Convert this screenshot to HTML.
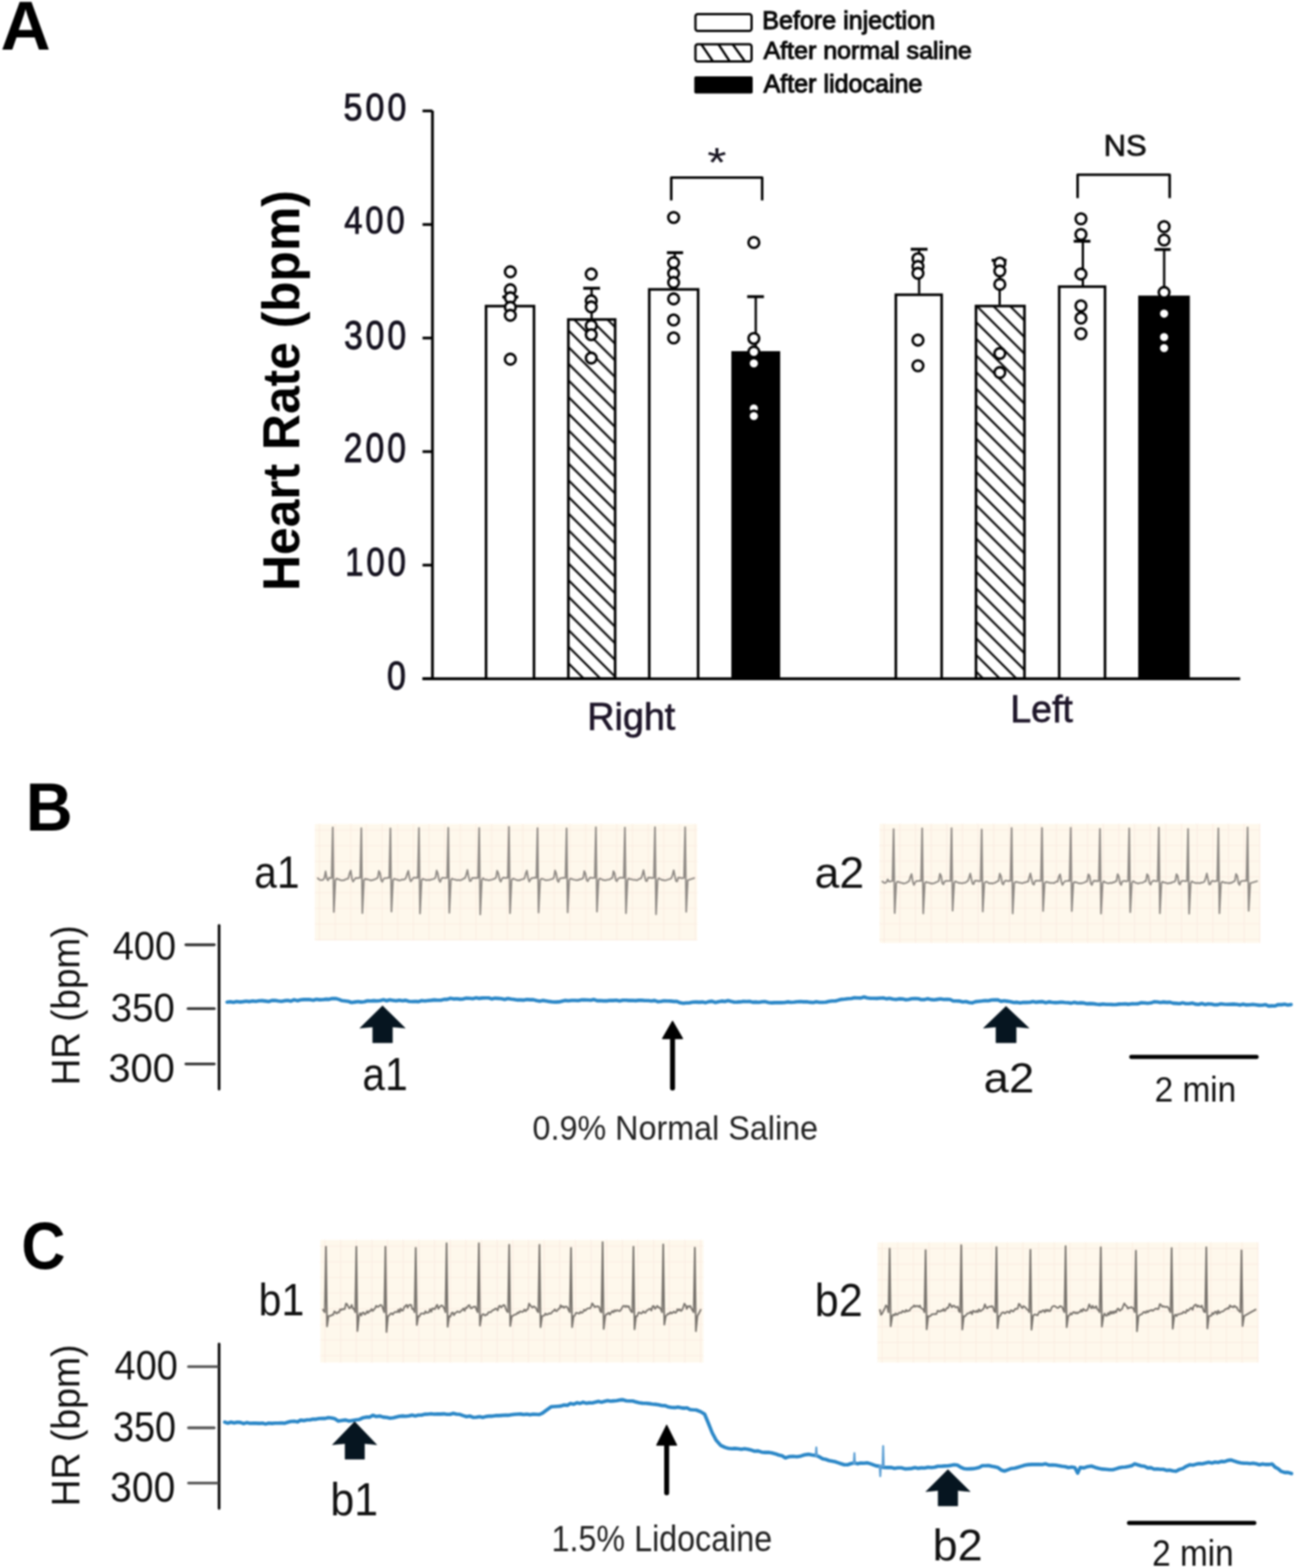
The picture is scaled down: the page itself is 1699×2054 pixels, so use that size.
<!DOCTYPE html>
<html><head><meta charset="utf-8"><title>Figure</title>
<style>
html,body{margin:0;padding:0;background:#fff;}
body{width:1699px;height:2054px;overflow:hidden;}
svg{display:block;font-family:"Liberation Sans", Arial, sans-serif;}
#fig{filter:blur(1px);}
</style></head>
<body>
<div id="fig">
<svg width="1699" height="2054" viewBox="0 0 1699 2054">
<defs>
<pattern id="hatch" patternUnits="userSpaceOnUse" width="21.8" height="21.8">
<path d="M-3,12.2 L9.6,24.8 M3.6,-3 L24.8,18.2" stroke="#000" stroke-width="2.7"/>
</pattern>
<clipPath id="legclip"><rect x="911" y="58" width="73.5" height="22.5" rx="3"/></clipPath>
</defs>
<text transform="translate(0.77,64.70) scale(0.9091,0.9029)" font-size="100" font-weight="bold" fill="#000">A</text>
<rect x="911" y="18.5" width="73.5" height="22" rx="3" fill="#fff" stroke="#000" stroke-width="3"/>
<g clip-path="url(#legclip)"><path d="M918,57 L935,82 M940.5,57 L957,82 M959,57 L977,82 M905,72 L916,86" stroke="#000" stroke-width="3"/></g>
<rect x="911" y="58" width="73.5" height="22.5" rx="3" fill="none" stroke="#000" stroke-width="3"/>
<rect x="909.5" y="100" width="76.5" height="22.5" rx="2" fill="#000"/>
<text transform="translate(998.47,38.04) scale(0.3287,0.3362)" font-size="100" font-weight="normal" fill="#0a0a0a" stroke="#0a0a0a" stroke-width="4.2">Before injection</text>
<text transform="translate(1000.20,77.19) scale(0.3274,0.3108)" font-size="100" font-weight="normal" fill="#0a0a0a" stroke="#0a0a0a" stroke-width="4.2">After normal saline</text>
<text transform="translate(1000.20,120.78) scale(0.3285,0.3230)" font-size="100" font-weight="normal" fill="#0a0a0a" stroke="#0a0a0a" stroke-width="4.2">After lidocaine</text>
<line x1="566.5" y1="145" x2="566.5" y2="890.6" stroke="#000" stroke-width="3.6"/>
<line x1="553.5" y1="889.1" x2="1624.5" y2="889.1" stroke="#000" stroke-width="3.6"/>
<line x1="553.5" y1="889.1" x2="566.5" y2="889.1" stroke="#000" stroke-width="3.6"/>
<line x1="553.5" y1="740.3" x2="566.5" y2="740.3" stroke="#000" stroke-width="3.6"/>
<line x1="553.5" y1="591.6" x2="566.5" y2="591.6" stroke="#000" stroke-width="3.6"/>
<line x1="553.5" y1="442.8" x2="566.5" y2="442.8" stroke="#000" stroke-width="3.6"/>
<line x1="553.5" y1="294.1" x2="566.5" y2="294.1" stroke="#000" stroke-width="3.6"/>
<line x1="553.5" y1="145.3" x2="566.5" y2="145.3" stroke="#000" stroke-width="3.6"/>
<text transform="translate(450.02,157.79) scale(0.4452,0.5056)" font-size="100" font-weight="normal" fill="#15121f" letter-spacing="9" stroke="#15121f" stroke-width="2.4">500</text>
<text transform="translate(450.94,306.30) scale(0.4285,0.4958)" font-size="100" font-weight="normal" fill="#15121f" letter-spacing="9" stroke="#15121f" stroke-width="2.4">400</text>
<text transform="translate(450.74,456.98) scale(0.4390,0.5211)" font-size="100" font-weight="normal" fill="#15121f" letter-spacing="9" stroke="#15121f" stroke-width="2.4">300</text>
<text transform="translate(450.29,605.47) scale(0.4415,0.5324)" font-size="100" font-weight="normal" fill="#15121f" letter-spacing="9" stroke="#15121f" stroke-width="2.4">200</text>
<text transform="translate(452.16,753.68) scale(0.4301,0.5183)" font-size="100" font-weight="normal" fill="#15121f" letter-spacing="9" stroke="#15121f" stroke-width="2.4">100</text>
<text transform="translate(506.93,902.88) scale(0.4438,0.5183)" font-size="100" font-weight="normal" fill="#15121f" stroke="#15121f" stroke-width="2.4">0</text>
<text transform="translate(391.75,774.06) rotate(-90) scale(0.6515,0.6787)" font-size="100" font-weight="bold" fill="#000">Heart Rate (bpm)</text>
<line x1="668.5" y1="399.5" x2="668.5" y2="389" stroke="#000" stroke-width="3"/>
<line x1="658" y1="389" x2="679" y2="389" stroke="#000" stroke-width="3.8"/>
<line x1="775.0" y1="417.0" x2="775.0" y2="377.6" stroke="#000" stroke-width="3"/>
<line x1="764" y1="377.6" x2="786" y2="377.6" stroke="#000" stroke-width="3.8"/>
<line x1="884.0" y1="377.6" x2="884.0" y2="331.0" stroke="#000" stroke-width="3"/>
<line x1="873.6" y1="331.0" x2="894.8" y2="331.0" stroke="#000" stroke-width="3.8"/>
<line x1="990.0" y1="460.0" x2="990.0" y2="388.6" stroke="#000" stroke-width="3"/>
<line x1="978.8" y1="388.6" x2="1000.7" y2="388.6" stroke="#000" stroke-width="3.8"/>
<line x1="1204.0" y1="384.6" x2="1204.0" y2="326.5" stroke="#000" stroke-width="3"/>
<line x1="1193" y1="326.5" x2="1215" y2="326.5" stroke="#000" stroke-width="3.8"/>
<line x1="1309.5" y1="399.4" x2="1309.5" y2="341.0" stroke="#000" stroke-width="3"/>
<line x1="1299" y1="341.0" x2="1318.5" y2="341.0" stroke="#000" stroke-width="3.8"/>
<line x1="1418.5" y1="374.0" x2="1418.5" y2="316.0" stroke="#000" stroke-width="3"/>
<line x1="1406.5" y1="316.0" x2="1428.4" y2="316.0" stroke="#000" stroke-width="3.8"/>
<line x1="1525.0" y1="387.2" x2="1525.0" y2="326.8" stroke="#000" stroke-width="3"/>
<line x1="1512.4" y1="326.8" x2="1533.5" y2="326.8" stroke="#000" stroke-width="3.8"/>
<rect x="636.7" y="401.0" width="62.8" height="488.1" fill="#fff" stroke="#000" stroke-width="3.4"/>
<rect x="744.5" y="418.5" width="61.3" height="470.6" fill="url(#hatch)" stroke="#000" stroke-width="3.4"/>
<rect x="850.5" y="379.1" width="64.0" height="510.0" fill="#fff" stroke="#000" stroke-width="3.4"/>
<rect x="958.0" y="460.0" width="64.0" height="429.1" fill="#000"/>
<rect x="1173.5" y="386.1" width="60.0" height="503.0" fill="#fff" stroke="#000" stroke-width="3.4"/>
<rect x="1278.5" y="400.9" width="63.5" height="488.2" fill="url(#hatch)" stroke="#000" stroke-width="3.4"/>
<rect x="1387.5" y="375.5" width="60.0" height="513.6" fill="#fff" stroke="#000" stroke-width="3.4"/>
<rect x="1491.0" y="387.2" width="67.6" height="501.9" fill="#000"/>
<circle cx="668.5" cy="356" r="7" fill="#fff" stroke="#000" stroke-width="3.3"/>
<circle cx="668.5" cy="379.5" r="7" fill="#fff" stroke="#000" stroke-width="3.3"/>
<circle cx="668.5" cy="390" r="7" fill="#fff" stroke="#000" stroke-width="3.3"/>
<circle cx="668.5" cy="402.5" r="7" fill="#fff" stroke="#000" stroke-width="3.3"/>
<circle cx="668.5" cy="413" r="7" fill="#fff" stroke="#000" stroke-width="3.3"/>
<circle cx="668.5" cy="470.5" r="7" fill="#fff" stroke="#000" stroke-width="3.3"/>
<circle cx="774.5" cy="359" r="7" fill="#fff" stroke="#000" stroke-width="3.3"/>
<circle cx="774.5" cy="394" r="7" fill="#fff" stroke="#000" stroke-width="3.3"/>
<circle cx="774.5" cy="402" r="7" fill="#fff" stroke="#000" stroke-width="3.3"/>
<circle cx="774.5" cy="426.5" r="7" fill="#fff" stroke="#000" stroke-width="3.3"/>
<circle cx="774.5" cy="438.3" r="7" fill="#fff" stroke="#000" stroke-width="3.3"/>
<circle cx="774.5" cy="469" r="7" fill="#fff" stroke="#000" stroke-width="3.3"/>
<circle cx="882.4" cy="284.8" r="7" fill="#fff" stroke="#000" stroke-width="3.3"/>
<circle cx="882.4" cy="344" r="7" fill="#fff" stroke="#000" stroke-width="3.3"/>
<circle cx="882.4" cy="358" r="7" fill="#fff" stroke="#000" stroke-width="3.3"/>
<circle cx="882.4" cy="370" r="7" fill="#fff" stroke="#000" stroke-width="3.3"/>
<circle cx="882.4" cy="391.5" r="7" fill="#fff" stroke="#000" stroke-width="3.3"/>
<circle cx="882.4" cy="419.2" r="7" fill="#fff" stroke="#000" stroke-width="3.3"/>
<circle cx="882.4" cy="442.7" r="7" fill="#fff" stroke="#000" stroke-width="3.3"/>
<circle cx="987.5" cy="317.7" r="7" fill="#fff" stroke="#000" stroke-width="3.3"/>
<circle cx="987.5" cy="443.3" r="7" fill="#fff" stroke="#000" stroke-width="3.3"/>
<circle cx="987.5" cy="461" r="7" fill="#fff" stroke="#000" stroke-width="3.3"/>
<circle cx="987.5" cy="476" r="7" fill="#fff" stroke="#000" stroke-width="3.3"/>
<circle cx="987.5" cy="535" r="7" fill="#fff" stroke="#000" stroke-width="3.3"/>
<circle cx="987.5" cy="545" r="7" fill="#fff" stroke="#000" stroke-width="3.3"/>
<circle cx="1202.5" cy="338.9" r="7" fill="#fff" stroke="#000" stroke-width="3.3"/>
<circle cx="1202.5" cy="349" r="7" fill="#fff" stroke="#000" stroke-width="3.3"/>
<circle cx="1202.5" cy="358" r="7" fill="#fff" stroke="#000" stroke-width="3.3"/>
<circle cx="1202.5" cy="445.5" r="7" fill="#fff" stroke="#000" stroke-width="3.3"/>
<circle cx="1202.5" cy="479.1" r="7" fill="#fff" stroke="#000" stroke-width="3.3"/>
<circle cx="1309.7" cy="344.7" r="7" fill="#fff" stroke="#000" stroke-width="3.3"/>
<circle cx="1309.7" cy="355" r="7" fill="#fff" stroke="#000" stroke-width="3.3"/>
<circle cx="1309.7" cy="372.5" r="7" fill="#fff" stroke="#000" stroke-width="3.3"/>
<circle cx="1309.7" cy="463" r="7" fill="#fff" stroke="#000" stroke-width="3.3"/>
<circle cx="1309.7" cy="488" r="7" fill="#fff" stroke="#000" stroke-width="3.3"/>
<circle cx="1416.0" cy="286.6" r="7" fill="#fff" stroke="#000" stroke-width="3.3"/>
<circle cx="1416.0" cy="307.1" r="7" fill="#fff" stroke="#000" stroke-width="3.3"/>
<circle cx="1416.0" cy="359" r="7" fill="#fff" stroke="#000" stroke-width="3.3"/>
<circle cx="1416.0" cy="400.6" r="7" fill="#fff" stroke="#000" stroke-width="3.3"/>
<circle cx="1416.0" cy="416.7" r="7" fill="#fff" stroke="#000" stroke-width="3.3"/>
<circle cx="1416.0" cy="437.1" r="7" fill="#fff" stroke="#000" stroke-width="3.3"/>
<circle cx="1524.9" cy="296.9" r="7" fill="#fff" stroke="#000" stroke-width="3.3"/>
<circle cx="1524.9" cy="314.4" r="7" fill="#fff" stroke="#000" stroke-width="3.3"/>
<circle cx="1524.9" cy="383" r="7" fill="#fff" stroke="#000" stroke-width="3.3"/>
<circle cx="1524.9" cy="410.8" r="7" fill="#fff" stroke="#000" stroke-width="3.3"/>
<circle cx="1524.9" cy="441.5" r="7" fill="#fff" stroke="#000" stroke-width="3.3"/>
<circle cx="1524.9" cy="456" r="7" fill="#fff" stroke="#000" stroke-width="3.3"/>
<path d="M879.3,262.5 V232.6 H998.4 V262.5" fill="none" stroke="#000" stroke-width="3.3" stroke-linejoin="round"/>
<path d="M1411.6,259.6 V228.9 H1532.2 V259.6" fill="none" stroke="#000" stroke-width="3.3" stroke-linejoin="round"/>
<text transform="translate(926.51,231.06) scale(0.6457,0.5371)" font-size="100" font-weight="normal" fill="#15121f">*</text>
<text transform="translate(1445.66,204.42) scale(0.4056,0.3845)" font-size="100" font-weight="normal" fill="#111" stroke="#111" stroke-width="2.5">NS</text>
<text transform="translate(769.25,956.31) scale(0.4942,0.4947)" font-size="100" font-weight="normal" fill="#1e1629" stroke="#1e1629" stroke-width="1.8">Right</text>
<text transform="translate(1323.58,946.20) scale(0.4905,0.5027)" font-size="100" font-weight="normal" fill="#1e1629" stroke="#1e1629" stroke-width="1.8">Left</text>
<text transform="translate(33.84,1088.00) scale(0.8508,0.8957)" font-size="100" font-weight="bold" fill="#000">B</text>
<rect x="412.5" y="1079.4" width="500.7" height="152.6" fill="#fef8ec"/>
<path d="M418.5,1079.4 V1232.0 M439.0,1079.4 V1232.0 M459.5,1079.4 V1232.0 M480.0,1079.4 V1232.0 M500.5,1079.4 V1232.0 M521.0,1079.4 V1232.0 M541.5,1079.4 V1232.0 M562.0,1079.4 V1232.0 M582.5,1079.4 V1232.0 M603.0,1079.4 V1232.0 M623.5,1079.4 V1232.0 M644.0,1079.4 V1232.0 M664.5,1079.4 V1232.0 M685.0,1079.4 V1232.0 M705.5,1079.4 V1232.0 M726.0,1079.4 V1232.0 M746.5,1079.4 V1232.0 M767.0,1079.4 V1232.0 M787.5,1079.4 V1232.0 M808.0,1079.4 V1232.0 M828.5,1079.4 V1232.0 M849.0,1079.4 V1232.0 M869.5,1079.4 V1232.0 M890.0,1079.4 V1232.0 M910.5,1079.4 V1232.0 M412.5,1087.4 H913.2 M412.5,1107.9 H913.2 M412.5,1128.4 H913.2 M412.5,1148.9 H913.2 M412.5,1169.4 H913.2 M412.5,1189.9 H913.2 M412.5,1210.4 H913.2 M412.5,1230.9 H913.2" stroke="#fbede3" stroke-width="1.3" fill="none"/>
<path d="M415.5,1150.0 L417.1,1151.1 L418.6,1152.5 L420.2,1152.8 L421.8,1152.9 L423.4,1152.2 L424.9,1150.4 L426.5,1141.4 L428.1,1151.2 L429.7,1153.3 L431.2,1149.7 L432.8,1150.5 L434.4,1150.0 L435.9,1083.9 L437.3,1194.7 L439.3,1153.0 L440.8,1150.8 L442.4,1151.7 L443.9,1151.8 L445.5,1152.8 L447.0,1153.3 L448.6,1153.0 L450.1,1153.1 L451.7,1152.6 L453.2,1151.5 L454.8,1151.5 L456.3,1150.5 L457.9,1144.1 L459.4,1140.3 L461.0,1151.2 L462.5,1154.9 L464.1,1152.5 L465.6,1150.4 L467.2,1150.2 L468.7,1150.4 L470.3,1149.9 L471.8,1150.0 L473.3,1084.9 L474.7,1196.2 L476.7,1153.0 L478.2,1151.2 L479.7,1151.9 L481.2,1151.7 L482.7,1152.2 L484.2,1152.6 L485.8,1153.5 L487.3,1152.8 L488.8,1152.8 L490.3,1152.0 L491.8,1151.6 L493.3,1150.7 L494.8,1149.9 L496.3,1140.9 L497.8,1143.8 L499.3,1153.1 L500.8,1155.1 L502.4,1151.4 L503.9,1150.4 L505.4,1150.5 L506.9,1150.2 L508.4,1149.7 L509.9,1150.0 L511.4,1085.1 L512.8,1194.1 L514.8,1153.0 L516.3,1151.2 L517.9,1151.6 L519.4,1152.4 L521.0,1152.4 L522.5,1153.3 L524.1,1153.1 L525.6,1152.6 L527.2,1152.0 L528.7,1152.3 L530.3,1151.7 L531.8,1150.0 L533.4,1144.6 L534.9,1140.7 L536.5,1150.5 L538.0,1154.7 L539.6,1152.5 L541.1,1150.4 L542.7,1149.5 L544.2,1150.1 L545.8,1149.5 L547.3,1150.0 L548.8,1084.7 L550.2,1196.7 L552.2,1153.0 L553.7,1151.2 L555.2,1152.0 L556.8,1152.1 L558.3,1153.1 L559.8,1152.7 L561.3,1152.6 L562.9,1153.0 L564.4,1152.2 L565.9,1151.9 L567.4,1151.5 L569.0,1151.0 L570.5,1149.7 L572.0,1140.3 L573.5,1144.1 L575.0,1152.5 L576.6,1155.4 L578.1,1151.3 L579.6,1149.9 L581.1,1150.0 L582.7,1150.0 L584.2,1150.1 L585.7,1150.0 L587.2,1084.3 L588.6,1195.8 L590.6,1153.0 L592.1,1150.9 L593.7,1151.9 L595.2,1152.0 L596.8,1152.4 L598.3,1153.1 L599.9,1152.7 L601.4,1152.8 L603.0,1153.2 L604.5,1152.4 L606.1,1151.9 L607.6,1150.7 L609.2,1150.4 L610.7,1145.9 L612.3,1139.6 L613.8,1147.9 L615.4,1154.2 L616.9,1153.9 L618.5,1150.1 L620.0,1150.0 L621.6,1150.2 L623.1,1149.9 L624.7,1150.2 L626.2,1150.0 L627.7,1084.7 L629.1,1197.9 L631.1,1153.0 L632.6,1150.3 L634.2,1151.7 L635.8,1152.6 L637.3,1152.3 L638.9,1152.8 L640.4,1153.1 L642.0,1152.7 L643.5,1152.5 L645.1,1152.0 L646.6,1151.4 L648.2,1150.9 L649.7,1149.9 L651.2,1140.7 L652.8,1144.0 L654.4,1152.2 L655.9,1155.0 L657.5,1151.2 L659.0,1149.8 L660.6,1149.7 L662.1,1150.3 L663.7,1149.7 L665.2,1150.0 L666.7,1083.1 L668.1,1196.3 L670.1,1153.0 L671.6,1151.0 L673.2,1151.2 L674.7,1152.0 L676.3,1152.5 L677.8,1153.3 L679.4,1152.9 L680.9,1153.2 L682.5,1152.1 L684.0,1151.8 L685.6,1151.4 L687.1,1150.8 L688.7,1144.2 L690.2,1140.5 L691.8,1150.5 L693.3,1155.0 L694.9,1152.0 L696.4,1150.3 L698.0,1150.3 L699.5,1149.7 L701.1,1149.8 L702.6,1150.0 L704.1,1084.9 L705.5,1195.4 L707.5,1153.0 L709.0,1151.1 L710.5,1151.3 L712.0,1151.7 L713.5,1152.4 L715.0,1153.2 L716.6,1152.8 L718.1,1152.8 L719.6,1152.5 L721.1,1152.1 L722.6,1151.5 L724.1,1151.3 L725.6,1149.7 L727.1,1140.3 L728.6,1144.2 L730.1,1153.1 L731.6,1155.4 L733.2,1150.9 L734.7,1150.5 L736.2,1150.4 L737.7,1149.7 L739.2,1150.2 L740.7,1150.0 L742.2,1085.0 L743.6,1195.3 L745.6,1153.0 L747.1,1150.8 L748.6,1151.3 L750.2,1151.9 L751.7,1152.3 L753.2,1152.5 L754.7,1153.1 L756.3,1152.7 L757.8,1152.9 L759.3,1151.7 L760.8,1152.0 L762.4,1151.0 L763.9,1150.5 L765.4,1141.2 L766.9,1144.2 L768.4,1152.8 L770.0,1154.4 L771.5,1151.2 L773.0,1149.7 L774.5,1149.8 L776.1,1150.2 L777.6,1150.0 L779.1,1150.0 L780.6,1083.7 L782.0,1194.2 L784.0,1153.0 L785.5,1150.9 L787.0,1151.3 L788.5,1151.9 L790.0,1152.9 L791.5,1152.9 L793.0,1153.3 L794.5,1152.8 L796.0,1152.3 L797.5,1152.2 L799.0,1151.9 L800.5,1150.5 L802.1,1150.4 L803.6,1141.2 L805.1,1144.1 L806.6,1153.0 L808.1,1154.4 L809.6,1151.1 L811.1,1150.4 L812.6,1149.5 L814.1,1149.8 L815.6,1149.8 L817.1,1150.0 L818.6,1084.1 L820.0,1196.3 L822.0,1153.0 L823.5,1150.7 L825.0,1151.7 L826.5,1151.5 L828.0,1152.1 L829.5,1152.5 L831.0,1152.6 L832.5,1152.5 L834.0,1153.2 L835.5,1152.7 L837.0,1151.4 L838.5,1151.2 L840.0,1150.3 L841.5,1145.6 L843.0,1139.9 L844.5,1147.9 L846.0,1154.1 L847.5,1154.2 L849.0,1149.7 L850.5,1149.8 L852.0,1149.6 L853.5,1150.1 L855.0,1150.2 L856.5,1150.0 L858.0,1083.6 L859.4,1197.7 L861.4,1153.0 L862.9,1150.4 L864.4,1151.3 L865.9,1152.1 L867.4,1152.8 L868.9,1152.7 L870.4,1153.3 L871.9,1153.1 L873.4,1152.7 L874.9,1152.2 L876.4,1151.8 L877.9,1151.4 L879.5,1150.4 L881.0,1146.0 L882.5,1140.0 L884.0,1147.5 L885.5,1154.1 L887.0,1154.6 L888.5,1149.6 L890.0,1149.9 L891.5,1149.9 L893.0,1150.4 L894.5,1150.4 L896.0,1150.0 L897.5,1083.6 L898.9,1194.4 L900.9,1153.0 L910.2,1150.0" stroke="#8e8984" stroke-width="2.2" fill="none" stroke-linejoin="round"/>
<rect x="1152.2" y="1079.2" width="498.4" height="156" fill="#fef8ec"/>
<path d="M1158.2,1079.2 V1235.2 M1178.7,1079.2 V1235.2 M1199.2,1079.2 V1235.2 M1219.7,1079.2 V1235.2 M1240.2,1079.2 V1235.2 M1260.7,1079.2 V1235.2 M1281.2,1079.2 V1235.2 M1301.7,1079.2 V1235.2 M1322.2,1079.2 V1235.2 M1342.7,1079.2 V1235.2 M1363.2,1079.2 V1235.2 M1383.7,1079.2 V1235.2 M1404.2,1079.2 V1235.2 M1424.7,1079.2 V1235.2 M1445.2,1079.2 V1235.2 M1465.7,1079.2 V1235.2 M1486.2,1079.2 V1235.2 M1506.7,1079.2 V1235.2 M1527.2,1079.2 V1235.2 M1547.7,1079.2 V1235.2 M1568.2,1079.2 V1235.2 M1588.7,1079.2 V1235.2 M1609.2,1079.2 V1235.2 M1629.7,1079.2 V1235.2 M1650.2,1079.2 V1235.2 M1152.2,1087.2 H1650.6 M1152.2,1107.7 H1650.6 M1152.2,1128.2 H1650.6 M1152.2,1148.7 H1650.6 M1152.2,1169.2 H1650.6 M1152.2,1189.7 H1650.6 M1152.2,1210.2 H1650.6 M1152.2,1230.7 H1650.6" stroke="#fbede3" stroke-width="1.3" fill="none"/>
<path d="M1155.2,1154.0 L1156.7,1155.5 L1158.3,1156.5 L1159.8,1156.7 L1161.4,1155.4 L1162.9,1152.0 L1164.5,1154.8 L1166.0,1154.7 L1167.6,1154.3 L1169.1,1154.0 L1170.6,1086.1 L1172.0,1196.1 L1174.0,1157.0 L1175.5,1154.8 L1177.1,1155.3 L1178.6,1155.9 L1180.2,1156.3 L1181.7,1156.6 L1183.3,1157.4 L1184.8,1157.2 L1186.4,1156.8 L1187.9,1156.2 L1189.5,1154.9 L1191.0,1154.3 L1192.6,1148.4 L1194.1,1145.0 L1195.7,1155.2 L1197.2,1159.3 L1198.8,1155.9 L1200.3,1154.1 L1201.9,1154.2 L1203.4,1154.0 L1205.0,1153.7 L1206.5,1154.0 L1208.0,1085.2 L1209.4,1196.6 L1211.4,1157.0 L1212.9,1155.2 L1214.5,1155.9 L1216.0,1156.2 L1217.5,1156.4 L1219.0,1157.3 L1220.6,1157.1 L1222.1,1157.3 L1223.6,1157.0 L1225.1,1156.2 L1226.7,1155.5 L1228.2,1154.9 L1229.7,1154.0 L1231.3,1144.5 L1232.8,1147.6 L1234.3,1157.0 L1235.8,1158.5 L1237.4,1154.5 L1238.9,1154.1 L1240.4,1153.8 L1241.9,1154.0 L1243.5,1154.0 L1245.0,1154.0 L1246.5,1084.8 L1247.9,1193.0 L1249.9,1157.0 L1251.4,1154.4 L1252.9,1155.3 L1254.4,1155.7 L1255.9,1156.6 L1257.4,1156.6 L1258.9,1156.8 L1260.4,1157.2 L1261.9,1156.6 L1263.4,1156.4 L1264.9,1156.2 L1266.4,1154.8 L1268.0,1154.0 L1269.5,1149.5 L1271.0,1144.3 L1272.5,1151.9 L1274.0,1157.8 L1275.5,1158.2 L1277.0,1153.7 L1278.5,1154.0 L1280.0,1153.5 L1281.5,1154.2 L1283.0,1154.4 L1284.5,1154.0 L1286.0,1086.7 L1287.4,1194.1 L1289.4,1157.0 L1291.0,1155.2 L1292.5,1155.0 L1294.1,1155.9 L1295.6,1157.1 L1297.2,1157.2 L1298.8,1156.9 L1300.3,1157.4 L1301.9,1156.7 L1303.4,1156.5 L1305.0,1155.3 L1306.6,1154.5 L1308.1,1154.0 L1309.7,1144.4 L1311.2,1147.6 L1312.8,1157.2 L1314.3,1158.7 L1315.9,1154.5 L1317.5,1153.5 L1319.0,1153.7 L1320.6,1154.3 L1322.1,1153.9 L1323.7,1154.0 L1325.2,1084.7 L1326.6,1196.6 L1328.6,1157.0 L1330.1,1155.2 L1331.6,1155.4 L1333.2,1155.7 L1334.7,1156.1 L1336.2,1156.4 L1337.7,1156.7 L1339.2,1157.1 L1340.7,1156.4 L1342.3,1155.9 L1343.8,1155.8 L1345.3,1154.9 L1346.8,1155.0 L1348.3,1149.4 L1349.8,1144.1 L1351.4,1152.1 L1352.9,1157.9 L1354.4,1158.9 L1355.9,1154.0 L1357.4,1153.7 L1358.9,1153.9 L1360.5,1153.5 L1362.0,1153.9 L1363.5,1154.0 L1365.0,1084.5 L1366.4,1193.4 L1368.4,1157.0 L1370.0,1155.1 L1371.5,1155.6 L1373.1,1155.7 L1374.6,1156.4 L1376.2,1156.7 L1377.7,1156.7 L1379.3,1156.6 L1380.9,1156.8 L1382.4,1155.6 L1384.0,1154.8 L1385.5,1154.9 L1387.1,1148.3 L1388.6,1145.3 L1390.2,1154.8 L1391.8,1159.3 L1393.3,1156.4 L1394.9,1154.3 L1396.4,1154.2 L1398.0,1154.0 L1399.5,1153.6 L1401.1,1154.0 L1402.6,1084.4 L1404.0,1193.5 L1406.0,1157.0 L1407.5,1155.2 L1409.0,1155.9 L1410.6,1155.9 L1412.1,1156.7 L1413.6,1157.2 L1415.1,1157.1 L1416.6,1157.2 L1418.1,1156.7 L1419.7,1156.3 L1421.2,1155.7 L1422.7,1154.6 L1424.2,1154.5 L1425.7,1145.3 L1427.3,1147.3 L1428.8,1157.2 L1430.3,1159.4 L1431.8,1155.1 L1433.3,1153.5 L1434.8,1154.4 L1436.4,1153.6 L1437.9,1154.5 L1439.4,1154.0 L1440.9,1085.8 L1442.3,1196.8 L1444.3,1157.0 L1445.8,1154.4 L1447.3,1155.6 L1448.9,1156.2 L1450.4,1156.8 L1451.9,1157.3 L1453.4,1156.7 L1454.9,1156.4 L1456.4,1157.0 L1458.0,1155.7 L1459.5,1155.9 L1461.0,1154.5 L1462.5,1154.4 L1464.0,1145.1 L1465.6,1148.1 L1467.1,1156.8 L1468.6,1159.3 L1470.1,1154.6 L1471.6,1154.2 L1473.1,1153.8 L1474.7,1154.4 L1476.2,1154.3 L1477.7,1154.0 L1479.2,1085.2 L1480.6,1194.9 L1482.6,1157.0 L1484.1,1154.3 L1485.7,1155.0 L1487.2,1156.2 L1488.8,1156.6 L1490.3,1157.3 L1491.8,1157.1 L1493.4,1156.5 L1494.9,1156.5 L1496.5,1156.4 L1498.0,1155.6 L1499.6,1154.4 L1501.1,1154.4 L1502.6,1145.1 L1504.2,1147.3 L1505.7,1156.7 L1507.3,1158.8 L1508.8,1155.2 L1510.3,1153.8 L1511.9,1153.7 L1513.4,1154.0 L1515.0,1154.5 L1516.5,1154.0 L1518.0,1084.1 L1519.4,1196.5 L1521.4,1157.0 L1522.9,1154.9 L1524.4,1155.9 L1526.0,1156.1 L1527.5,1156.5 L1529.0,1157.2 L1530.5,1157.3 L1532.0,1156.5 L1533.5,1157.0 L1535.1,1155.9 L1536.6,1155.4 L1538.1,1155.2 L1539.6,1154.0 L1541.1,1145.1 L1542.7,1147.4 L1544.2,1157.1 L1545.7,1158.6 L1547.2,1154.6 L1548.7,1154.0 L1550.2,1153.8 L1551.8,1154.0 L1553.3,1154.4 L1554.8,1154.0 L1556.3,1085.9 L1557.7,1197.0 L1559.7,1157.0 L1561.2,1154.5 L1562.7,1155.5 L1564.2,1156.0 L1565.8,1156.7 L1567.3,1156.8 L1568.8,1156.6 L1570.3,1156.7 L1571.8,1157.1 L1573.3,1156.2 L1574.8,1156.1 L1576.3,1155.7 L1577.9,1154.6 L1579.4,1150.0 L1580.9,1144.2 L1582.4,1151.6 L1583.9,1158.4 L1585.4,1158.4 L1586.9,1154.4 L1588.4,1153.8 L1590.0,1154.4 L1591.5,1154.3 L1593.0,1154.1 L1594.5,1154.0 L1596.0,1085.1 L1597.4,1196.4 L1599.4,1157.0 L1600.9,1155.0 L1602.4,1155.4 L1604.0,1156.3 L1605.5,1156.2 L1607.0,1156.5 L1608.5,1156.6 L1610.0,1157.2 L1611.5,1156.3 L1613.1,1156.6 L1614.6,1155.4 L1616.1,1154.9 L1617.6,1153.9 L1619.1,1144.9 L1620.7,1147.3 L1622.2,1156.6 L1623.7,1159.3 L1625.2,1154.6 L1626.7,1154.2 L1628.2,1153.8 L1629.8,1153.8 L1631.3,1153.5 L1632.8,1154.0 L1634.3,1083.9 L1635.7,1193.2 L1637.7,1157.0 L1647.6,1154.0" stroke="#8e8984" stroke-width="2.2" fill="none" stroke-linejoin="round"/>
<text transform="translate(333.07,1162.80) scale(0.5333,0.6000)" font-size="100" font-weight="normal" fill="#111">a1</text>
<text transform="translate(1066.96,1163.13) scale(0.5853,0.5704)" font-size="100" font-weight="normal" fill="#111">a2</text>
<line x1="287" y1="1212.3" x2="287" y2="1426.7" stroke="#000" stroke-width="3.4" stroke-linecap="round"/>
<line x1="243.4" y1="1237.6" x2="280.8" y2="1237.6" stroke="#333" stroke-width="3.6" stroke-linecap="round"/>
<line x1="246.3" y1="1321.2" x2="280.8" y2="1321.2" stroke="#333" stroke-width="3.6" stroke-linecap="round"/>
<line x1="243.4" y1="1393.8" x2="280.8" y2="1393.8" stroke="#333" stroke-width="3.6" stroke-linecap="round"/>
<text transform="translate(147.70,1257.38) scale(0.4975,0.5197)" font-size="100" font-weight="normal" fill="#111">400</text>
<text transform="translate(144.99,1337.97) scale(0.5031,0.5268)" font-size="100" font-weight="normal" fill="#111">350</text>
<text transform="translate(141.91,1416.88) scale(0.5220,0.5183)" font-size="100" font-weight="normal" fill="#111">300</text>
<text transform="translate(104.43,1421.87) rotate(-90) scale(0.4838,0.5128)" font-size="100" font-weight="normal" fill="#111">HR (bpm)</text>
<path d="M297.5,1312.7 L301.7,1312.2 L305.9,1313.0 L310.0,1311.9 L314.2,1312.6 L318.4,1312.1 L322.6,1311.5 L326.8,1312.1 L331.0,1311.2 L335.1,1311.8 L339.3,1311.0 L343.5,1310.9 L347.7,1311.4 L351.9,1312.0 L356.1,1310.6 L360.2,1310.6 L364.4,1311.3 L368.6,1311.7 L372.8,1310.9 L377.0,1310.5 L381.1,1311.4 L385.3,1309.6 L389.5,1310.9 L393.7,1309.8 L397.8,1309.4 L402.0,1309.2 L406.2,1309.4 L410.4,1310.2 L414.5,1309.0 L418.7,1309.6 L422.9,1309.5 L427.1,1308.9 L431.2,1309.1 L435.4,1308.1 L439.6,1308.0 L443.8,1309.1 L448.0,1310.8 L452.1,1311.2 L456.3,1311.8 L460.5,1313.2 L464.7,1312.6 L468.9,1312.0 L473.0,1312.6 L477.2,1312.2 L481.4,1311.0 L485.6,1311.3 L489.8,1310.9 L493.9,1311.3 L498.1,1310.7 L502.3,1309.6 L506.5,1311.0 L510.6,1309.7 L514.8,1310.4 L519.0,1311.1 L523.1,1310.2 L527.3,1311.0 L531.5,1310.4 L535.7,1311.7 L539.8,1312.0 L544.0,1311.8 L548.2,1312.1 L552.4,1310.8 L556.6,1311.2 L560.7,1310.7 L564.9,1310.4 L569.1,1309.9 L573.3,1310.3 L577.5,1310.2 L581.7,1309.1 L585.8,1309.1 L590.0,1307.8 L594.2,1308.6 L598.4,1308.3 L602.6,1308.9 L606.8,1308.6 L610.9,1307.6 L615.1,1307.8 L619.3,1308.3 L623.5,1307.1 L627.7,1307.9 L631.8,1307.4 L636.0,1307.3 L640.2,1307.2 L644.4,1308.6 L648.6,1307.6 L652.8,1307.9 L656.9,1308.3 L661.1,1309.3 L665.3,1308.0 L669.5,1308.8 L673.7,1309.2 L677.9,1309.9 L682.1,1309.9 L686.3,1310.1 L690.4,1309.2 L694.6,1309.6 L698.8,1309.6 L703.0,1310.7 L707.2,1311.4 L711.3,1310.6 L715.5,1311.2 L719.6,1311.9 L723.8,1312.5 L728.0,1312.6 L732.2,1312.4 L736.3,1311.4 L740.5,1310.6 L744.7,1311.0 L748.9,1310.5 L753.0,1310.5 L757.2,1310.8 L761.4,1309.9 L765.6,1309.7 L769.8,1310.0 L773.9,1310.3 L778.1,1309.3 L782.3,1310.9 L786.5,1310.8 L790.7,1311.1 L794.9,1311.1 L799.0,1310.5 L803.2,1310.6 L807.4,1310.2 L811.6,1311.2 L815.8,1310.2 L819.9,1310.3 L824.1,1310.6 L828.3,1310.5 L832.5,1310.9 L836.6,1310.4 L840.8,1310.4 L845.0,1310.7 L849.2,1310.7 L853.3,1311.2 L857.5,1310.6 L861.7,1312.2 L865.9,1311.8 L870.0,1311.0 L874.2,1311.2 L878.4,1311.4 L882.6,1311.9 L886.8,1311.9 L890.9,1313.6 L895.1,1314.3 L899.3,1313.7 L903.5,1313.6 L907.7,1312.7 L911.8,1312.6 L916.0,1312.9 L920.2,1312.6 L924.4,1313.4 L928.5,1312.1 L932.7,1311.6 L936.9,1313.2 L941.1,1312.2 L945.2,1311.4 L949.4,1311.9 L953.6,1310.8 L957.6,1311.8 L961.7,1312.7 L965.7,1312.6 L969.8,1312.4 L973.8,1311.7 L977.9,1312.0 L981.9,1311.7 L986.0,1312.9 L990.0,1312.6 L994.2,1313.0 L998.4,1312.3 L1002.5,1312.1 L1006.7,1313.2 L1010.9,1313.6 L1015.1,1313.4 L1019.2,1313.3 L1023.4,1313.4 L1027.6,1313.3 L1031.8,1312.4 L1035.9,1313.0 L1040.1,1312.7 L1044.3,1312.2 L1048.5,1312.0 L1052.6,1312.4 L1056.8,1312.2 L1061.0,1312.9 L1065.1,1313.3 L1069.3,1312.3 L1073.5,1313.0 L1077.6,1313.0 L1081.8,1312.8 L1086.0,1311.7 L1090.1,1311.3 L1094.3,1311.2 L1098.5,1310.1 L1102.7,1309.1 L1106.8,1308.8 L1111.0,1308.2 L1115.2,1308.0 L1119.4,1307.1 L1123.5,1307.3 L1127.7,1307.4 L1131.9,1306.0 L1136.1,1307.2 L1140.2,1307.8 L1144.4,1307.7 L1148.6,1307.9 L1152.8,1307.5 L1157.0,1307.2 L1161.1,1308.4 L1165.3,1307.8 L1169.5,1308.8 L1173.7,1309.3 L1177.8,1308.4 L1182.0,1308.6 L1186.2,1309.6 L1190.3,1309.2 L1194.5,1308.2 L1198.7,1308.1 L1202.8,1308.2 L1207.0,1309.5 L1211.2,1309.4 L1215.3,1308.2 L1219.5,1309.4 L1223.7,1309.7 L1227.8,1309.1 L1232.0,1308.5 L1236.2,1309.3 L1240.4,1309.0 L1244.5,1309.2 L1248.7,1311.3 L1252.9,1311.2 L1257.1,1311.4 L1261.3,1312.5 L1265.4,1312.0 L1269.6,1313.2 L1273.8,1313.6 L1278.0,1312.1 L1282.1,1311.7 L1286.3,1311.3 L1290.5,1310.8 L1294.7,1311.0 L1298.8,1310.0 L1303.0,1309.9 L1307.2,1309.8 L1311.3,1311.6 L1315.5,1311.0 L1319.7,1311.6 L1323.9,1312.3 L1328.0,1313.3 L1332.2,1312.9 L1336.4,1313.8 L1340.6,1313.0 L1344.7,1313.1 L1348.9,1313.0 L1353.1,1312.1 L1357.3,1312.9 L1361.5,1312.4 L1365.6,1312.1 L1369.8,1313.5 L1374.0,1312.4 L1378.2,1313.0 L1382.3,1313.4 L1386.5,1313.1 L1390.7,1312.7 L1394.9,1313.2 L1399.0,1313.5 L1403.2,1314.1 L1407.4,1313.0 L1411.5,1314.0 L1415.7,1313.6 L1419.9,1313.9 L1424.1,1314.9 L1428.2,1314.6 L1432.4,1314.9 L1436.6,1315.5 L1440.7,1315.9 L1444.9,1315.3 L1449.1,1315.7 L1453.2,1315.7 L1457.4,1315.9 L1461.6,1316.0 L1465.8,1315.4 L1469.9,1315.3 L1474.1,1315.0 L1478.3,1315.6 L1482.5,1314.9 L1486.6,1315.0 L1490.8,1314.9 L1495.0,1313.5 L1499.2,1313.8 L1503.3,1314.2 L1507.5,1313.8 L1511.7,1312.3 L1515.9,1312.5 L1520.0,1313.2 L1524.2,1312.6 L1528.4,1313.1 L1532.6,1312.9 L1536.7,1314.1 L1540.9,1314.4 L1545.1,1314.8 L1549.3,1313.6 L1553.4,1314.7 L1557.6,1314.8 L1561.8,1314.0 L1566.0,1315.4 L1570.1,1315.7 L1574.3,1314.5 L1578.5,1315.9 L1582.6,1315.0 L1586.8,1315.3 L1591.0,1316.3 L1595.2,1316.1 L1599.3,1315.0 L1603.5,1315.5 L1607.7,1315.8 L1611.9,1315.6 L1616.0,1315.4 L1620.2,1315.7 L1624.4,1316.5 L1628.5,1315.4 L1632.7,1316.4 L1636.9,1316.3 L1641.1,1315.7 L1645.2,1316.3 L1649.4,1316.9 L1653.6,1316.8 L1657.8,1316.1 L1661.9,1317.9 L1666.1,1317.6 L1670.3,1317.7 L1674.5,1316.0 L1678.7,1316.1 L1682.8,1315.5 L1687.0,1316.6 L1691.2,1315.9" stroke="#2b87c7" stroke-width="4.6" fill="none" stroke-linejoin="round" stroke-linecap="round"/>
<path d="M501.1,1317.5 L530.9,1346.8 L514.1,1345.3 L514.1,1366 L488.2,1366 L488.2,1345.3 L471.4,1346.8 Z" fill="#061520" stroke="#061520" stroke-width="0.6" stroke-linejoin="round"/>
<path d="M1317.8,1318.2 L1348.1,1346.8 L1331.1,1345.3 L1331.1,1366 L1304.7,1366 L1304.7,1345.3 L1288.2,1346.8 Z" fill="#061520" stroke="#061520" stroke-width="0.6" stroke-linejoin="round"/>
<text transform="translate(474.87,1427.68) scale(0.5324,0.6186)" font-size="100" font-weight="normal" fill="#111">a1</text>
<text transform="translate(1288.62,1430.94) scale(0.5941,0.5563)" font-size="100" font-weight="normal" fill="#111">a2</text>
<line x1="881" y1="1356.5" x2="881" y2="1425.3" stroke="#000" stroke-width="6.5" stroke-linecap="round"/>
<path d="M881,1338 L894.0,1360.5 L868.0,1360.5 Z" fill="#000" stroke="#000" stroke-width="1.5" stroke-linejoin="round"/>
<text transform="translate(697.61,1492.66) scale(0.4233,0.4405)" font-size="100" font-weight="normal" fill="#222">0.9% Normal Saline</text>
<line x1="1482" y1="1384.5" x2="1646" y2="1384.5" stroke="#000" stroke-width="5.5" stroke-linecap="round"/>
<text transform="translate(1512.52,1443.20) scale(0.4369,0.4589)" font-size="100" font-weight="normal" fill="#111">2 min</text>
<text transform="translate(27.91,1661.93) scale(0.7985,0.8704)" font-size="100" font-weight="bold" fill="#000">C</text>
<rect x="419.7" y="1624.3" width="501.6" height="160.5" fill="#fef8ec"/>
<path d="M425.7,1624.3 V1784.8 M446.2,1624.3 V1784.8 M466.7,1624.3 V1784.8 M487.2,1624.3 V1784.8 M507.7,1624.3 V1784.8 M528.2,1624.3 V1784.8 M548.7,1624.3 V1784.8 M569.2,1624.3 V1784.8 M589.7,1624.3 V1784.8 M610.2,1624.3 V1784.8 M630.7,1624.3 V1784.8 M651.2,1624.3 V1784.8 M671.7,1624.3 V1784.8 M692.2,1624.3 V1784.8 M712.7,1624.3 V1784.8 M733.2,1624.3 V1784.8 M753.7,1624.3 V1784.8 M774.2,1624.3 V1784.8 M794.7,1624.3 V1784.8 M815.2,1624.3 V1784.8 M835.7,1624.3 V1784.8 M856.2,1624.3 V1784.8 M876.7,1624.3 V1784.8 M897.2,1624.3 V1784.8 M917.7,1624.3 V1784.8 M419.7,1632.3 H921.3 M419.7,1652.8 H921.3 M419.7,1673.3 H921.3 M419.7,1693.8 H921.3 M419.7,1714.3 H921.3 M419.7,1734.8 H921.3 M419.7,1755.3 H921.3 M419.7,1775.8 H921.3" stroke="#fbede3" stroke-width="1.3" fill="none"/>
<path d="M422.7,1715.0 L425.5,1719.0 L427.0,1633.2 L428.4,1737.6 L430.4,1724.0 L431.9,1723.7 L433.4,1723.7 L435.0,1722.2 L436.5,1722.4 L438.0,1717.9 L439.5,1719.2 L441.0,1720.7 L442.5,1718.8 L444.1,1719.3 L445.6,1715.2 L447.1,1716.2 L448.6,1714.6 L450.1,1715.3 L451.6,1714.8 L453.2,1707.5 L454.7,1708.6 L456.2,1711.7 L457.7,1713.9 L459.2,1712.6 L460.7,1709.3 L462.3,1714.3 L463.8,1714.4 L465.3,1719.0 L466.8,1633.2 L468.2,1743.7 L470.2,1724.0 L471.7,1720.2 L473.2,1723.4 L474.7,1719.8 L476.2,1719.2 L477.7,1721.9 L479.3,1720.8 L480.8,1717.6 L482.3,1719.9 L483.8,1717.4 L485.3,1717.4 L486.8,1714.7 L488.3,1717.3 L489.8,1715.6 L491.3,1713.7 L492.8,1710.5 L494.3,1711.9 L495.9,1711.6 L497.4,1710.1 L498.9,1709.4 L500.4,1710.8 L501.9,1715.0 L503.4,1719.0 L504.9,1633.0 L506.3,1745.0 L508.3,1724.0 L509.8,1723.2 L511.3,1721.1 L512.8,1720.3 L514.4,1722.0 L515.9,1719.9 L517.4,1718.5 L518.9,1718.7 L520.4,1719.0 L521.9,1715.6 L523.4,1719.0 L524.9,1714.2 L526.5,1716.8 L528.0,1716.6 L529.5,1712.4 L531.0,1710.9 L532.5,1709.2 L534.0,1713.0 L535.5,1709.9 L537.0,1709.4 L538.6,1709.4 L540.1,1715.0 L541.6,1714.7 L543.1,1719.0 L544.6,1634.6 L546.0,1735.7 L548.0,1724.0 L549.5,1724.3 L551.1,1721.1 L552.6,1720.5 L554.2,1720.7 L555.7,1721.2 L557.3,1717.6 L558.8,1719.8 L560.3,1719.4 L561.9,1719.1 L563.4,1714.9 L565.0,1718.3 L566.5,1713.9 L568.1,1714.4 L569.6,1715.0 L571.2,1711.5 L572.7,1709.1 L574.2,1714.5 L575.8,1712.2 L577.3,1710.6 L578.9,1710.0 L580.4,1711.6 L582.0,1714.1 L583.5,1719.0 L585.0,1628.5 L586.4,1738.1 L588.4,1724.0 L590.0,1724.6 L591.5,1720.3 L593.1,1719.3 L594.6,1722.8 L596.2,1720.2 L597.8,1719.1 L599.3,1717.8 L600.9,1718.7 L602.4,1719.2 L604.0,1717.0 L605.5,1716.2 L607.1,1714.0 L608.7,1717.2 L610.2,1712.8 L611.8,1713.4 L613.3,1710.2 L614.9,1709.7 L616.4,1713.5 L618.0,1713.9 L619.6,1711.9 L621.1,1712.0 L622.7,1711.5 L624.2,1715.8 L625.8,1719.0 L627.3,1628.5 L628.7,1736.6 L630.7,1724.0 L632.2,1721.5 L633.7,1721.6 L635.2,1723.4 L636.8,1722.1 L638.3,1722.1 L639.8,1719.1 L641.3,1718.7 L642.8,1719.1 L644.3,1717.4 L645.8,1716.0 L647.3,1715.9 L648.9,1714.1 L650.4,1714.5 L651.9,1716.6 L653.4,1711.7 L654.9,1710.4 L656.4,1712.6 L657.9,1711.3 L659.4,1709.6 L661.0,1709.8 L662.5,1714.2 L664.0,1717.6 L665.5,1719.0 L667.0,1630.6 L668.4,1737.1 L670.4,1724.0 L671.9,1723.6 L673.4,1722.6 L674.9,1721.9 L676.5,1721.7 L678.0,1719.4 L679.5,1720.2 L681.0,1717.8 L682.5,1718.1 L684.0,1718.7 L685.5,1717.8 L687.0,1715.4 L688.6,1717.7 L690.1,1715.7 L691.6,1714.8 L693.1,1707.5 L694.6,1710.0 L696.1,1711.6 L697.6,1712.8 L699.1,1711.3 L700.7,1712.2 L702.2,1713.6 L703.7,1717.3 L705.2,1719.0 L706.7,1630.5 L708.1,1738.6 L710.1,1724.0 L711.6,1723.5 L713.1,1723.3 L714.6,1720.6 L716.2,1722.2 L717.7,1721.7 L719.2,1720.3 L720.7,1721.0 L722.2,1720.3 L723.8,1717.8 L725.3,1717.3 L726.8,1715.1 L728.3,1717.5 L729.8,1717.3 L731.3,1714.7 L732.9,1714.3 L734.4,1709.7 L735.9,1712.3 L737.4,1711.1 L738.9,1713.2 L740.4,1711.7 L742.0,1711.5 L743.5,1712.9 L745.0,1716.7 L746.5,1719.0 L748.0,1634.7 L749.4,1738.6 L751.4,1724.0 L752.9,1723.4 L754.4,1719.8 L756.0,1719.8 L757.5,1720.4 L759.0,1720.7 L760.5,1718.3 L762.0,1719.7 L763.6,1718.9 L765.1,1715.7 L766.6,1717.0 L768.1,1715.4 L769.6,1714.0 L771.2,1713.8 L772.7,1714.0 L774.2,1712.1 L775.7,1707.3 L777.3,1709.2 L778.8,1712.3 L780.3,1711.4 L781.8,1711.8 L783.3,1711.1 L784.9,1712.1 L786.4,1717.9 L787.9,1719.0 L789.4,1627.0 L790.8,1740.9 L792.8,1724.0 L794.3,1721.4 L795.9,1721.4 L797.4,1719.5 L799.0,1722.0 L800.5,1719.4 L802.1,1717.3 L803.6,1719.2 L805.1,1716.3 L806.7,1717.7 L808.2,1716.2 L809.8,1716.7 L811.3,1717.7 L812.9,1716.5 L814.4,1714.1 L816.0,1711.0 L817.5,1710.4 L819.0,1712.1 L820.6,1710.5 L822.1,1711.9 L823.7,1711.1 L825.2,1715.0 L826.8,1718.0 L828.3,1719.0 L829.8,1633.1 L831.2,1741.5 L833.2,1724.0 L834.7,1724.1 L836.3,1719.5 L837.8,1719.4 L839.4,1720.7 L840.9,1720.3 L842.5,1717.6 L844.0,1719.1 L845.6,1719.6 L847.1,1716.7 L848.7,1716.3 L850.2,1714.8 L851.8,1714.4 L853.3,1716.8 L854.9,1711.1 L856.4,1710.8 L858.0,1714.6 L859.5,1712.6 L861.1,1710.5 L862.6,1713.0 L864.2,1712.7 L865.8,1715.5 L867.3,1719.0 L868.8,1630.2 L870.2,1735.2 L872.2,1724.0 L873.7,1722.4 L875.2,1720.9 L876.8,1721.1 L878.3,1719.0 L879.8,1720.6 L881.3,1719.3 L882.8,1718.0 L884.4,1719.6 L885.9,1719.2 L887.4,1715.0 L888.9,1716.7 L890.5,1715.0 L892.0,1717.3 L893.5,1716.1 L895.0,1712.3 L896.5,1707.7 L898.1,1709.8 L899.6,1714.7 L901.1,1711.0 L902.6,1711.8 L904.1,1710.6 L905.7,1713.9 L907.2,1716.6 L908.7,1719.0 L910.2,1634.4 L911.6,1743.8 L913.6,1724.0 L918.3,1715.0" stroke="#77726c" stroke-width="2.2" fill="none" stroke-linejoin="round"/>
<rect x="1149.5" y="1627.5" width="499.1" height="157.3" fill="#fef8ec"/>
<path d="M1155.5,1627.5 V1784.8 M1176.0,1627.5 V1784.8 M1196.5,1627.5 V1784.8 M1217.0,1627.5 V1784.8 M1237.5,1627.5 V1784.8 M1258.0,1627.5 V1784.8 M1278.5,1627.5 V1784.8 M1299.0,1627.5 V1784.8 M1319.5,1627.5 V1784.8 M1340.0,1627.5 V1784.8 M1360.5,1627.5 V1784.8 M1381.0,1627.5 V1784.8 M1401.5,1627.5 V1784.8 M1422.0,1627.5 V1784.8 M1442.5,1627.5 V1784.8 M1463.0,1627.5 V1784.8 M1483.5,1627.5 V1784.8 M1504.0,1627.5 V1784.8 M1524.5,1627.5 V1784.8 M1545.0,1627.5 V1784.8 M1565.5,1627.5 V1784.8 M1586.0,1627.5 V1784.8 M1606.5,1627.5 V1784.8 M1627.0,1627.5 V1784.8 M1647.5,1627.5 V1784.8 M1149.5,1635.5 H1648.6 M1149.5,1656.0 H1648.6 M1149.5,1676.5 H1648.6 M1149.5,1697.0 H1648.6 M1149.5,1717.5 H1648.6 M1149.5,1738.0 H1648.6 M1149.5,1758.5 H1648.6 M1149.5,1779.0 H1648.6" stroke="#fbede3" stroke-width="1.3" fill="none"/>
<path d="M1152.5,1715.0 L1154.1,1722.3 L1155.8,1720.4 L1157.4,1716.9 L1159.0,1714.0 L1160.6,1709.9 L1162.3,1711.7 L1163.9,1719.0 L1165.4,1635.7 L1166.8,1737.4 L1168.8,1724.0 L1170.3,1721.9 L1171.8,1723.2 L1173.3,1720.5 L1174.8,1722.3 L1176.3,1721.5 L1177.8,1719.6 L1179.4,1719.7 L1180.9,1719.8 L1182.4,1717.1 L1183.9,1718.2 L1185.4,1718.8 L1186.9,1716.0 L1188.4,1717.8 L1189.9,1716.8 L1191.4,1717.0 L1192.9,1714.3 L1194.4,1712.7 L1195.9,1712.0 L1197.4,1710.0 L1198.9,1711.9 L1200.5,1710.7 L1202.0,1710.7 L1203.5,1712.1 L1205.0,1710.1 L1206.5,1713.6 L1208.0,1714.4 L1209.5,1715.2 L1211.0,1719.0 L1212.5,1637.6 L1213.9,1741.4 L1215.9,1724.0 L1217.4,1724.4 L1219.0,1723.8 L1220.5,1721.5 L1222.1,1721.6 L1223.6,1721.3 L1225.2,1721.2 L1226.7,1721.5 L1228.3,1716.8 L1229.8,1717.7 L1231.4,1718.3 L1232.9,1716.4 L1234.5,1717.2 L1236.0,1714.5 L1237.6,1717.4 L1239.1,1715.3 L1240.7,1713.0 L1242.2,1713.4 L1243.8,1707.9 L1245.3,1709.4 L1246.9,1712.6 L1248.4,1710.5 L1250.0,1710.3 L1251.5,1712.7 L1253.1,1712.2 L1254.6,1711.7 L1256.2,1717.7 L1257.7,1719.0 L1259.2,1631.2 L1260.6,1741.7 L1262.6,1724.0 L1264.1,1724.3 L1265.7,1722.5 L1267.2,1720.6 L1268.7,1720.4 L1270.2,1719.9 L1271.8,1718.2 L1273.3,1721.6 L1274.8,1716.9 L1276.3,1718.0 L1277.9,1718.9 L1279.4,1716.8 L1280.9,1718.9 L1282.4,1715.1 L1284.0,1717.8 L1285.5,1716.9 L1287.0,1715.5 L1288.5,1714.4 L1290.1,1708.5 L1291.6,1712.2 L1293.1,1713.9 L1294.6,1712.2 L1296.2,1711.5 L1297.7,1712.0 L1299.2,1710.9 L1300.7,1712.0 L1302.3,1717.5 L1303.8,1719.0 L1305.3,1633.7 L1306.7,1740.1 L1308.7,1724.0 L1310.2,1723.7 L1311.7,1720.5 L1313.3,1719.3 L1314.8,1719.2 L1316.3,1720.7 L1317.8,1719.2 L1319.4,1718.2 L1320.9,1718.5 L1322.4,1720.0 L1323.9,1716.5 L1325.5,1716.7 L1327.0,1718.2 L1328.5,1716.5 L1330.0,1714.4 L1331.5,1714.8 L1333.1,1714.3 L1334.6,1707.9 L1336.1,1708.9 L1337.6,1711.9 L1339.2,1713.6 L1340.7,1710.9 L1342.2,1711.9 L1343.7,1713.1 L1345.3,1715.5 L1346.8,1715.8 L1348.3,1719.0 L1349.8,1637.0 L1351.2,1741.8 L1353.2,1724.0 L1354.7,1722.0 L1356.3,1721.9 L1357.8,1722.7 L1359.3,1722.8 L1360.8,1719.5 L1362.4,1717.7 L1363.9,1719.1 L1365.4,1716.9 L1366.9,1716.3 L1368.5,1719.0 L1370.0,1715.6 L1371.5,1717.7 L1373.0,1715.7 L1374.6,1717.7 L1376.1,1716.8 L1377.6,1712.8 L1379.1,1711.3 L1380.7,1710.7 L1382.2,1711.2 L1383.7,1712.3 L1385.2,1713.4 L1386.8,1713.0 L1388.3,1711.0 L1389.8,1711.2 L1391.3,1712.1 L1392.9,1715.8 L1394.4,1719.0 L1395.9,1632.4 L1397.3,1738.7 L1399.3,1724.0 L1400.8,1723.0 L1402.4,1720.4 L1403.9,1722.0 L1405.4,1719.2 L1406.9,1718.7 L1408.5,1720.5 L1410.0,1719.2 L1411.5,1720.6 L1413.0,1718.9 L1414.6,1718.7 L1416.1,1715.7 L1417.6,1718.2 L1419.1,1714.4 L1420.7,1716.3 L1422.2,1717.0 L1423.7,1716.5 L1425.2,1714.4 L1426.8,1708.5 L1428.3,1711.6 L1429.8,1713.9 L1431.3,1710.5 L1432.9,1713.5 L1434.4,1712.9 L1435.9,1711.0 L1437.4,1715.1 L1439.0,1716.2 L1440.5,1719.0 L1442.0,1633.8 L1443.4,1737.9 L1445.4,1724.0 L1446.9,1720.6 L1448.4,1723.3 L1450.0,1723.5 L1451.5,1720.0 L1453.0,1722.3 L1454.5,1718.1 L1456.1,1720.9 L1457.6,1717.9 L1459.1,1720.4 L1460.6,1717.5 L1462.1,1719.2 L1463.7,1714.7 L1465.2,1714.4 L1466.7,1717.1 L1468.2,1715.8 L1469.8,1714.9 L1471.3,1710.6 L1472.8,1707.3 L1474.3,1710.1 L1475.8,1710.7 L1477.4,1714.3 L1478.9,1712.8 L1480.4,1713.1 L1481.9,1712.2 L1483.5,1713.2 L1485.0,1714.6 L1486.5,1719.0 L1488.0,1638.3 L1489.4,1743.9 L1491.4,1724.0 L1493.0,1722.7 L1494.5,1721.8 L1496.1,1721.4 L1497.6,1719.1 L1499.2,1718.5 L1500.7,1720.0 L1502.3,1717.3 L1503.8,1719.0 L1505.4,1716.8 L1506.9,1716.9 L1508.5,1715.8 L1510.0,1717.1 L1511.6,1715.8 L1513.1,1714.5 L1514.7,1714.0 L1516.2,1715.0 L1517.8,1714.5 L1519.3,1708.3 L1520.9,1709.2 L1522.4,1711.8 L1524.0,1711.0 L1525.5,1711.9 L1527.1,1712.3 L1528.6,1711.6 L1530.2,1712.5 L1531.7,1715.7 L1533.3,1719.0 L1534.8,1634.8 L1536.2,1740.6 L1538.2,1724.0 L1539.7,1722.0 L1541.2,1724.2 L1542.7,1721.7 L1544.2,1721.6 L1545.7,1721.4 L1547.2,1720.5 L1548.7,1720.7 L1550.2,1718.3 L1551.7,1719.1 L1553.2,1719.9 L1554.7,1715.8 L1556.2,1717.3 L1557.7,1715.8 L1559.2,1713.8 L1560.7,1713.2 L1562.2,1715.8 L1563.7,1711.0 L1565.2,1709.6 L1566.7,1708.9 L1568.2,1712.0 L1569.7,1710.1 L1571.2,1711.8 L1572.7,1712.3 L1574.2,1710.1 L1575.7,1714.2 L1577.2,1718.3 L1578.7,1719.0 L1580.2,1633.9 L1581.6,1740.3 L1583.6,1724.0 L1585.1,1723.5 L1586.7,1723.6 L1588.2,1720.0 L1589.7,1721.6 L1591.2,1718.7 L1592.8,1718.2 L1594.3,1721.5 L1595.8,1716.9 L1597.3,1720.2 L1598.9,1718.9 L1600.4,1718.1 L1601.9,1717.8 L1603.4,1716.9 L1605.0,1714.8 L1606.5,1715.0 L1608.0,1713.4 L1609.5,1714.3 L1611.1,1709.9 L1612.6,1712.0 L1614.1,1711.4 L1615.6,1712.5 L1617.2,1710.5 L1618.7,1712.4 L1620.2,1712.4 L1621.7,1716.0 L1623.3,1717.3 L1624.8,1719.0 L1626.3,1637.8 L1627.7,1737.2 L1629.7,1724.0 L1645.6,1715.0" stroke="#77726c" stroke-width="2.2" fill="none" stroke-linejoin="round"/>
<text transform="translate(338.84,1723.40) scale(0.5374,0.5932)" font-size="100" font-weight="normal" fill="#111">b1</text>
<text transform="translate(1067.25,1724.20) scale(0.5646,0.6137)" font-size="100" font-weight="normal" fill="#111">b2</text>
<line x1="287" y1="1760.5" x2="287" y2="1976" stroke="#000" stroke-width="3.4" stroke-linecap="round"/>
<line x1="246.9" y1="1790.3" x2="285" y2="1790.3" stroke="#555" stroke-width="3.6" stroke-linecap="round"/>
<line x1="246.9" y1="1870.4" x2="280.6" y2="1870.4" stroke="#555" stroke-width="3.6" stroke-linecap="round"/>
<line x1="246.9" y1="1942.8" x2="285" y2="1942.8" stroke="#555" stroke-width="3.6" stroke-linecap="round"/>
<text transform="translate(150.00,1807.36) scale(0.4975,0.5437)" font-size="100" font-weight="normal" fill="#111">400</text>
<text transform="translate(147.92,1887.95) scale(0.4962,0.5521)" font-size="100" font-weight="normal" fill="#111">350</text>
<text transform="translate(144.36,1966.85) scale(0.5107,0.5521)" font-size="100" font-weight="normal" fill="#111">300</text>
<text transform="translate(104.43,1973.32) rotate(-90) scale(0.4897,0.5128)" font-size="100" font-weight="normal" fill="#111">HR (bpm)</text>
<path d="M294.4,1862.8 L298.5,1864.3 L302.6,1862.9 L306.8,1864.0 L310.9,1863.0 L315.0,1863.4 L319.1,1864.9 L323.2,1863.6 L327.4,1864.5 L331.5,1864.3 L335.6,1864.4 L339.7,1864.6 L343.8,1864.2 L347.9,1865.4 L352.1,1864.2 L356.2,1864.6 L360.3,1864.3 L364.5,1864.3 L368.7,1864.0 L372.9,1864.4 L377.1,1863.0 L381.2,1862.0 L385.4,1861.8 L389.6,1862.6 L393.8,1860.4 L398.0,1860.9 L402.0,1860.0 L406.0,1860.0 L410.0,1859.0 L414.0,1859.1 L418.0,1858.3 L422.0,1858.1 L426.0,1858.1 L430.0,1857.0 L434.4,1857.5 L438.8,1858.6 L443.2,1861.5 L447.9,1860.7 L452.6,1860.1 L457.3,1861.5 L462.0,1860.8 L466.4,1860.1 L470.8,1859.4 L475.2,1857.3 L479.6,1856.4 L484.0,1856.4 L488.4,1854.0 L492.9,1855.6 L497.4,1854.9 L502.0,1856.4 L506.5,1856.8 L511.0,1857.7 L515.1,1857.2 L519.2,1856.2 L523.3,1855.3 L527.4,1854.9 L531.5,1855.2 L535.7,1854.8 L539.8,1853.7 L543.9,1854.9 L548.0,1853.8 L552.1,1853.8 L556.2,1852.6 L560.4,1852.5 L564.6,1852.0 L568.7,1852.5 L572.9,1852.2 L577.1,1852.4 L581.3,1852.1 L585.4,1852.8 L589.6,1852.8 L593.8,1851.4 L598.1,1852.5 L602.4,1852.8 L606.7,1854.4 L611.1,1855.7 L615.4,1855.0 L619.7,1856.7 L624.0,1856.5 L628.2,1855.7 L632.4,1856.7 L636.5,1855.6 L640.7,1855.0 L644.9,1855.1 L649.1,1854.4 L653.2,1854.4 L657.4,1854.1 L661.6,1853.8 L665.7,1853.9 L669.8,1853.2 L673.9,1852.7 L677.9,1852.5 L682.0,1852.4 L686.1,1853.0 L690.2,1852.5 L694.3,1853.2 L698.4,1852.5 L702.4,1852.7 L706.5,1853.0 L710.6,1851.2 L716.0,1847.1 L721.9,1842.8 L726.1,1842.5 L730.4,1842.2 L734.6,1841.9 L738.8,1840.5 L743.1,1840.9 L747.3,1838.5 L751.6,1839.4 L755.8,1837.6 L759.8,1838.5 L763.8,1836.8 L767.8,1838.2 L771.9,1837.6 L775.9,1837.7 L779.9,1836.7 L783.9,1835.7 L787.9,1836.9 L791.9,1835.7 L795.9,1834.8 L799.9,1835.5 L804.0,1835.1 L808.0,1834.8 L812.0,1833.9 L816.0,1833.6 L820.2,1835.0 L824.5,1835.3 L828.8,1835.3 L833.0,1836.4 L837.2,1837.5 L841.5,1838.1 L845.8,1838.2 L850.0,1838.6 L854.3,1839.2 L858.6,1839.6 L862.9,1840.2 L867.1,1841.3 L871.4,1841.4 L875.7,1843.1 L880.0,1843.8 L884.0,1843.9 L888.0,1843.2 L892.0,1844.1 L896.0,1844.6 L900.0,1844.3 L904.0,1846.5 L908.0,1846.8 L912.0,1847.0 L918.0,1849.4 L923.0,1852.5 L928.0,1864.5 L933.0,1877.0 L938.0,1886.4 L944.0,1893.3 L950.0,1896.1 L954.1,1897.2 L958.3,1897.7 L962.5,1897.4 L966.6,1897.8 L971.0,1898.5 L975.4,1897.8 L979.8,1898.5 L984.2,1899.6 L988.6,1901.0 L993.0,1900.6 L997.5,1902.2 L1002.0,1902.6 L1006.6,1902.5 L1011.1,1903.3 L1015.6,1904.4 L1020.0,1906.0 L1024.4,1907.0 L1028.8,1909.8 L1033.8,1908.1 L1038.9,1907.8 L1043.9,1908.2 L1048.9,1907.4 L1054.0,1905.8 L1059.0,1905.1 L1064.0,1906.0 L1069.0,1906.6 L1073.4,1908.4 L1077.8,1911.0 L1081.8,1911.8 L1085.9,1913.2 L1089.9,1914.0 L1093.9,1914.8 L1097.9,1916.1 L1102.0,1917.5 L1106.0,1918.8 L1110.3,1918.7 L1114.7,1917.2 L1119.0,1916.2 L1123.2,1917.4 L1127.4,1916.5 L1131.6,1916.7 L1135.8,1916.2 L1140.0,1917.4 L1147.5,1920.1 L1152.5,1920.8 L1157.5,1922.3 L1162.5,1922.4 L1167.1,1922.2 L1171.7,1923.4 L1176.2,1922.7 L1180.8,1922.8 L1185.4,1924.1 L1190.0,1923.9 L1194.3,1923.6 L1198.6,1922.5 L1202.9,1923.4 L1207.1,1922.8 L1211.4,1923.0 L1215.7,1922.0 L1220.0,1922.5 L1224.3,1922.0 L1228.6,1920.7 L1232.9,1920.7 L1237.1,1920.4 L1241.4,1920.2 L1245.7,1919.6 L1250.0,1918.8 L1254.1,1919.3 L1258.2,1921.8 L1262.3,1923.7 L1266.4,1924.3 L1270.5,1924.1 L1274.5,1923.9 L1278.6,1923.2 L1282.7,1922.3 L1286.8,1920.0 L1290.8,1920.0 L1294.9,1919.7 L1299.1,1920.8 L1303.3,1921.6 L1307.4,1922.6 L1311.6,1925.7 L1315.8,1927.0 L1320.3,1925.4 L1324.8,1923.7 L1329.3,1923.3 L1333.8,1922.0 L1338.3,1920.6 L1342.8,1919.2 L1347.3,1918.6 L1351.8,1918.4 L1356.2,1918.4 L1360.7,1918.2 L1365.2,1918.5 L1369.7,1917.6 L1374.0,1919.2 L1378.3,1919.1 L1382.6,1919.3 L1386.8,1920.0 L1391.1,1920.7 L1395.4,1921.3 L1399.7,1922.5 L1403.8,1921.8 L1408.0,1922.5 L1411.7,1929.6 L1415.0,1922.4 L1419.9,1922.9 L1424.8,1921.2 L1429.7,1920.5 L1434.5,1922.2 L1439.3,1923.4 L1444.0,1924.4 L1448.8,1924.8 L1453.6,1925.2 L1457.7,1925.3 L1461.8,1924.1 L1466.0,1922.8 L1470.1,1922.0 L1474.2,1921.8 L1478.3,1921.0 L1482.5,1920.0 L1486.6,1917.6 L1490.8,1919.0 L1495.0,1920.2 L1499.2,1920.8 L1503.4,1922.9 L1507.6,1922.6 L1511.7,1924.5 L1515.8,1924.3 L1519.9,1924.7 L1524.0,1924.7 L1528.2,1926.1 L1532.3,1925.8 L1536.4,1926.7 L1540.5,1927.2 L1545.0,1924.9 L1549.5,1923.6 L1554.0,1920.8 L1558.5,1918.8 L1562.6,1919.2 L1566.8,1918.1 L1570.9,1917.3 L1575.1,1917.5 L1579.2,1916.6 L1583.4,1915.6 L1587.5,1916.4 L1591.7,1915.3 L1595.8,1915.7 L1600.0,1914.4 L1604.1,1914.7 L1608.3,1913.1 L1612.4,1912.5 L1616.6,1913.9 L1620.8,1915.2 L1625.0,1916.2 L1629.2,1916.8 L1633.4,1916.7 L1637.5,1917.3 L1641.6,1916.8 L1645.7,1917.5 L1649.8,1918.7 L1654.0,1917.7 L1658.1,1918.4 L1662.2,1918.4 L1666.3,1917.7 L1670.3,1921.9 L1674.3,1924.0 L1678.3,1927.4 L1682.8,1928.9 L1687.3,1928.9 L1691.8,1930.3" stroke="#2b87c7" stroke-width="4.6" fill="none" stroke-linejoin="round" stroke-linecap="round"/>
<path d="M1068.5,1907 L1069.3,1896 L1070.1,1907" stroke="#5c9fd4" stroke-width="2.6" fill="none" stroke-linecap="round" stroke-linejoin="round"/>
<path d="M1118.4,1917 L1119.2,1903.6 L1120.0,1917" stroke="#5c9fd4" stroke-width="2.6" fill="none" stroke-linecap="round" stroke-linejoin="round"/>
<path d="M1152.3,1920 L1153.1,1933.7 L1153.8999999999999,1920" stroke="#5c9fd4" stroke-width="2.6" fill="none" stroke-linecap="round" stroke-linejoin="round"/>
<path d="M1156.1000000000001,1921 L1156.9,1894.2 L1157.7,1921" stroke="#5c9fd4" stroke-width="2.6" fill="none" stroke-linecap="round" stroke-linejoin="round"/>
<path d="M464.6,1862.2 L493.6,1892.6 L477.5,1891 L477.5,1911.4 L452,1911.4 L452,1891 L435.4,1892.6 Z" fill="#061520" stroke="#061520" stroke-width="0.6" stroke-linejoin="round"/>
<path d="M1241.7,1925 L1271,1954 L1254.6,1952.5 L1254.6,1972.7 L1228.9,1972.7 L1228.9,1952.5 L1212.7,1954 Z" fill="#061520" stroke="#061520" stroke-width="0.6" stroke-linejoin="round"/>
<text transform="translate(432.67,1984.60) scale(0.5616,0.6110)" font-size="100" font-weight="normal" fill="#111">b1</text>
<text transform="translate(1221.79,2043.50) scale(0.5869,0.5822)" font-size="100" font-weight="normal" fill="#111">b2</text>
<line x1="873.3" y1="1889" x2="873.3" y2="1955.6" stroke="#000" stroke-width="6.5" stroke-linecap="round"/>
<path d="M873.3,1867 L886.3,1893 L860.3,1893 Z" fill="#000" stroke="#000" stroke-width="1.5" stroke-linejoin="round"/>
<text transform="translate(722.62,2031.63) scale(0.4225,0.4716)" font-size="100" font-weight="normal" fill="#222">1.5% Lidocaine</text>
<line x1="1479" y1="1995.1" x2="1643" y2="1995.1" stroke="#000" stroke-width="5.5" stroke-linecap="round"/>
<text transform="translate(1509.22,2051.00) scale(0.4369,0.4822)" font-size="100" font-weight="normal" fill="#111">2 min</text>
</svg>
</div>
</body></html>
